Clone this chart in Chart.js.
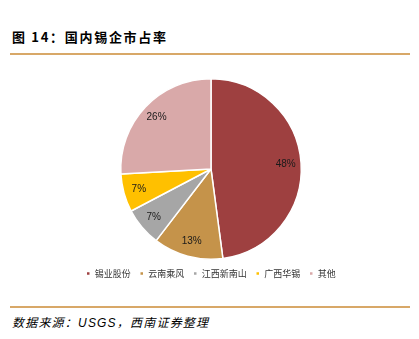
<!DOCTYPE html>
<html lang="zh">
<head>
    <meta charset="UTF-8">
    <title>图 14：国内锡企市占率</title>
    <script src="https://cdn.jsdelivr.net/npm/chart.js"></script>
    <style>
        body {
            margin: 0;
            width: 419px;
            height: 339px;
            background: #fff;
            position: relative;
            overflow: hidden;
            font-family: "Noto Sans CJK SC", "Liberation Sans", sans-serif;
        }
        #title {
            position: absolute;
            left: 12px;
            top: 28px;
            font-size: 13px;
            font-weight: bold;
            letter-spacing: 1.7px;
            color: #000;
            line-height: 18px;
        }
        .rule {
            position: absolute;
            left: 10px;
            width: 400px;
            height: 2px;
            background: #d8a868;
        }
        #chart-container {
            position: absolute;
            left: 0;
            top: 60px;
            width: 419px;
            height: 228px;
        }
        #source {
            position: absolute;
            left: 12px;
            top: 313px;
            font-size: 12px;
            font-style: italic;
            letter-spacing: 1.2px;
            color: #000;
            line-height: 18px;
        }
        #source span { font-family: "Liberation Sans", Arial, sans-serif; }
    </style>
</head>
<body>

<div id="title">图 14：国内锡企市占率</div>
<div class="rule" style="top:53px"></div>
<div id="chart-container">
    <canvas id="pieChart"></canvas>
</div>
<div class="rule" style="top:306px"></div>
<div id="source">数据来源：<span>USGS</span>，西南证券整理</div>

<script>
    // companies and their market share (%)
    const companies = ['锡业股份', '云南乘风', '江西新南山', '广西华锡', '其他'];
    const shares = [47.9, 12.5, 6.9, 6.8, 25.9];
    const colors = ['#9e4040', '#c5934a', '#a6a6a6', '#ffc000', '#d9a9a9'];

    // draw the percent text inside each slice
    const pctLabels = {
        id: 'pctLabels',
        afterDatasetsDraw(chart) {
            const ctx = chart.ctx;
            const meta = chart.getDatasetMeta(0);
            ctx.save();
            ctx.font = '10px "Liberation Sans", Arial, sans-serif';
            ctx.fillStyle = '#1a1a1a';
            ctx.textAlign = 'center';
            ctx.textBaseline = 'middle';
            meta.data.forEach((arc, i) => {
                const mid = (arc.startAngle + arc.endAngle) / 2;
                const r = arc.outerRadius * 0.83;
                const x = arc.x + Math.cos(mid) * r;
                const y = arc.y + Math.sin(mid) * r;
                ctx.fillText(Math.round(shares[i]) + '%', x, y);
            });
            ctx.restore();
        }
    };

    const ctx = document.getElementById('pieChart').getContext('2d');
    new Chart(ctx, {
        type: 'pie',
        data: {
            labels: companies,
            datasets: [{
                data: shares,
                backgroundColor: colors,
                borderColor: '#ffffff',
                borderWidth: 1.5,
            }],
        },
        options: {
            responsive: true,
            maintainAspectRatio: false,
            animation: false,
            layout: { padding: { top: 18, left: 3 } },
            plugins: {
                legend: {
                    position: 'bottom',
                    labels: {
                        boxWidth: 4,
                        boxHeight: 4,
                        padding: 9,
                        color: '#333',
                        font: { size: 9, family: '"Noto Sans CJK SC", sans-serif' },
                    }
                },
                tooltip: { enabled: false }
            }
        },
        plugins: [pctLabels]
    });
</script>

</body>
</html>
